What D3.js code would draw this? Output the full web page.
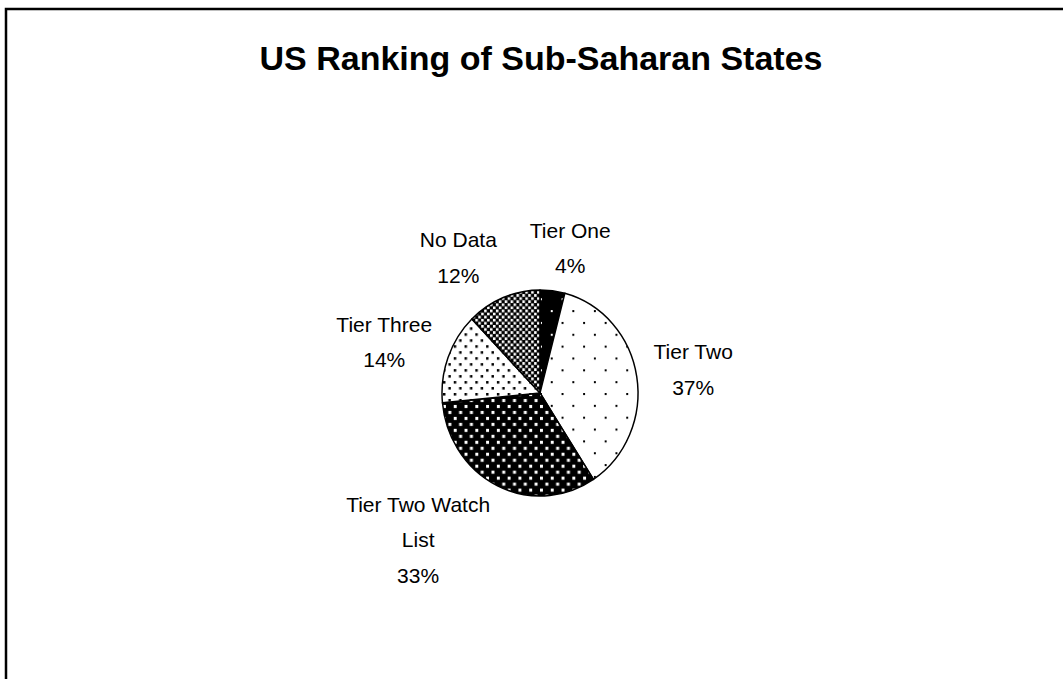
<!DOCTYPE html>
<html>
<head>
<meta charset="utf-8">
<script src="https://cdn.jsdelivr.net/npm/d3@7"></script>
<style>
  body { margin: 0; background: #fff; }
  text { font-family: "Liberation Sans", Arial, sans-serif; fill: #000; }
</style>
</head>
<body>
<div id="chart"></div>
<script>
// slices, clockwise from 12 o'clock
const labels = ["Tier One", "Tier Two", "Tier Two Watch List", "Tier Three", "No Data"]
const counts = [2, 18, 16, 7, 6]
const patterns = ["sparseWhite", "sparseBlack", "denseWhite", "denseBlack", "checker"]

const width = 1063
const height = 679
const cx = 540, cy = 393
const radius = 100

const svg = d3.select("#chart")
    .append("svg")
    .attr("width", width)
    .attr("height", height)

// frame (only top and left edges fall inside the picture)
svg.append("rect")
    .attr("x", 6).attr("y", 9)
    .attr("width", 1200).attr("height", 800)
    .attr("fill", "#fff")
    .attr("stroke", "#000")
    .attr("stroke-width", 2.5)

svg.append("text")
    .attr("x", 541).attr("y", 70)
    .attr("text-anchor", "middle")
    .style("font-size", "34px")
    .style("font-weight", "bold")
    .text("US Ranking of Sub-Saharan States")

// fill patterns
const defs = svg.append("defs")
function dotPattern(id, bg, fg, w, h, s) {
    const p = defs.append("pattern")
        .attr("id", id)
        .attr("patternUnits", "userSpaceOnUse")
        .attr("width", w).attr("height", h)
    p.append("rect").attr("width", w).attr("height", h).attr("fill", bg)
    p.append("rect").attr("x", 0).attr("y", 0).attr("width", s).attr("height", s).attr("fill", fg)
    p.append("rect").attr("x", w / 2).attr("y", h / 2).attr("width", s).attr("height", s).attr("fill", fg)
}
dotPattern("sparseWhite", "#000", "#fff", 22, 23, 2)
dotPattern("sparseBlack", "#fff", "#000", 22, 23, 2)
dotPattern("denseWhite", "#000", "#fff", 11, 11.6, 3)
dotPattern("denseBlack", "#fff", "#000", 11, 11.6, 2.5)
dotPattern("checker", "#000", "#fff", 6, 6, 2.6)

const pie = d3.pie().sort(null).value(d => d)
const arcs = pie(counts)
const arc = d3.arc().innerRadius(0).outerRadius(radius)

const g = svg.append("g")
    .attr("transform", `translate(${cx},${cy}) scale(0.98,1.03)`)

g.selectAll("path.slice")
    .data(arcs)
    .enter().append("path")
    .attr("class", "slice")
    .attr("d", arc)
    .attr("fill", (d, i) => `url(#${patterns[i]})`)
    .attr("stroke", "#000")
    .attr("stroke-width", 1.5)
    .attr("stroke-linejoin", "round")

// labels: box edge placed just outside the pie along the mid angle
const total = d3.sum(counts)
const fontSize = 21
const lineH = 35.5
const padX = 15, padY = 10
const k = 3

function wrap(name) {
    return name === "Tier Two Watch List" ? ["Tier Two Watch", "List"] : [name]
}

const measure = svg.append("text").style("font-size", fontSize + "px")

arcs.forEach((d, i) => {
    const pct = Math.round(counts[i] / total * 100) + "%"
    const lines = wrap(labels[i]).concat([pct])
    let w = 0
    lines.forEach(l => { measure.text(l); w = Math.max(w, measure.node().getComputedTextLength()) })
    const h = lines.length * lineH
    const a = (d.startAngle + d.endAngle) / 2
    const s = Math.sin(a), c = Math.cos(a)
    const x = cx + s * (radius + padX) + Math.sign(s) * w / 2 * Math.min(1, Math.abs(s) * k)
    const y = cy - c * (radius + padY + h / 2)
    const t = svg.append("text")
        .attr("text-anchor", "middle")
        .style("font-size", fontSize + "px")
    lines.forEach((l, j) => {
        t.append("tspan")
            .attr("x", x)
            .attr("y", y - h / 2 + lineH * j + lineH / 2 + 7)
            .text(l)
    })
})
measure.remove()
</script>
</body>
</html>
